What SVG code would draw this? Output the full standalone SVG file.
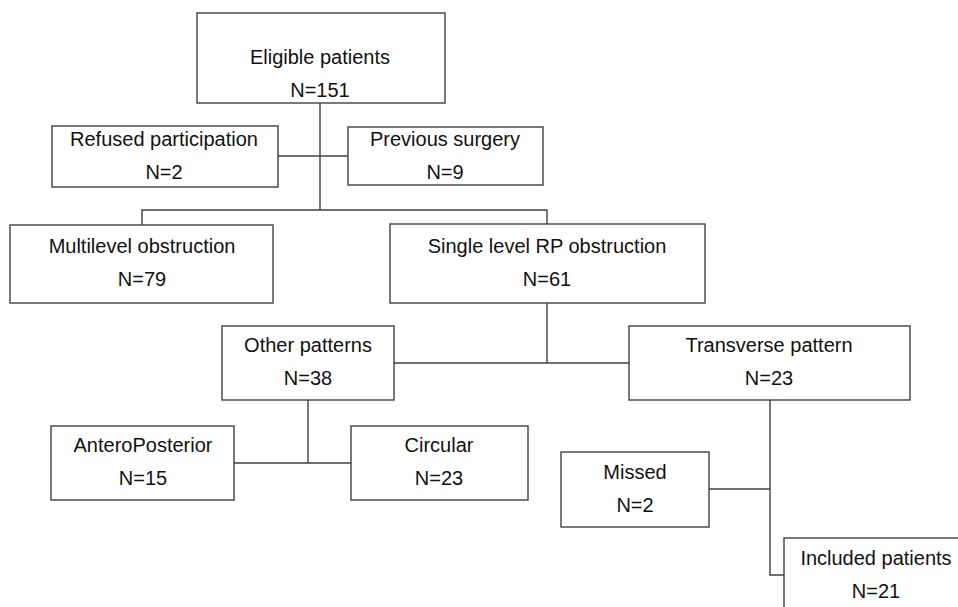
<svg xmlns="http://www.w3.org/2000/svg" width="958" height="607" viewBox="0 0 958 607">
<style>
.box{fill:#fff;stroke:#404040;stroke-width:1.4}
.ln{fill:none;stroke:#404040;stroke-width:1.4}
text{font-family:"Liberation Sans",Arial,sans-serif;font-size:20px;fill:#111;text-anchor:middle}
</style>
<rect width="958" height="607" fill="#fff"/>
<g id="connectors">
<path class="ln" d="M320 103V210"/>
<path class="ln" d="M278 156H348"/>
<path class="ln" d="M142 225V210H547V224"/>
<path class="ln" d="M547 303V363"/>
<path class="ln" d="M394 363H629"/>
<path class="ln" d="M308 400V463"/>
<path class="ln" d="M234 463H351"/>
<path class="ln" d="M770 400V575H784"/>
<path class="ln" d="M709 489H770"/>
</g>
<g id="eligible"><rect class="box" x="197" y="13" width="248" height="90"/><text x="320" y="64">Eligible patients</text><text x="320" y="97">N=151</text></g>
<g id="refused"><rect class="box" x="52" y="126" width="226" height="61"/><text x="164" y="146">Refused participation</text><text x="164" y="179">N=2</text></g>
<g id="previous"><rect class="box" x="348" y="127" width="195" height="58"/><text x="445" y="146">Previous surgery</text><text x="445" y="179">N=9</text></g>
<g id="multilevel"><rect class="box" x="10" y="225" width="263" height="78"/><text x="142" y="253">Multilevel obstruction</text><text x="142" y="286">N=79</text></g>
<g id="single"><rect class="box" x="390" y="224" width="315" height="79"/><text x="547" y="253">Single level RP obstruction</text><text x="547" y="286">N=61</text></g>
<g id="other"><rect class="box" x="222" y="326" width="172" height="74"/><text x="308" y="352">Other patterns</text><text x="308" y="385">N=38</text></g>
<g id="transverse"><rect class="box" x="629" y="326" width="281" height="74"/><text x="769" y="352">Transverse pattern</text><text x="769" y="385">N=23</text></g>
<g id="antero"><rect class="box" x="51" y="426" width="183" height="74"/><text x="143" y="452">AnteroPosterior</text><text x="143" y="485">N=15</text></g>
<g id="circular"><rect class="box" x="351" y="426" width="177" height="74"/><text x="439" y="452">Circular</text><text x="439" y="485">N=23</text></g>
<g id="missed"><rect class="box" x="561" y="452" width="148" height="75"/><text x="635" y="479">Missed</text><text x="635" y="512">N=2</text></g>
<g id="included"><rect class="box" x="784" y="538" width="180" height="80"/><text x="876" y="565">Included patients</text><text x="876" y="598">N=21</text></g>
</svg>
